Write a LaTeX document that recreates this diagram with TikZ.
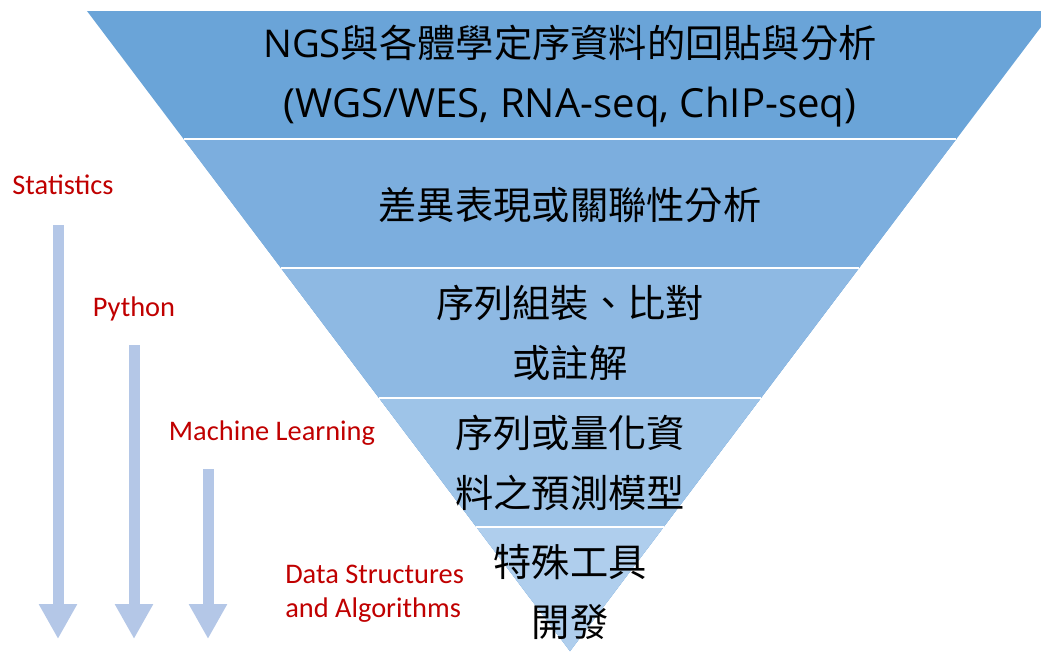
\documentclass[tikz,border=0pt]{standalone}
\usepackage{fontspec}
\setmainfont{Noto Sans CJK TC}
\newfontfamily\latinText{Open Sans}
\newfontfamily\latinLabel{Carlito}
\usetikzlibrary{arrows.meta}

\definecolor{bandA}{HTML}{6AA4D8}
\definecolor{bandB}{HTML}{7CAEDE}
\definecolor{bandC}{HTML}{8EB9E3}
\definecolor{bandD}{HTML}{9EC4E8}
\definecolor{bandE}{HTML}{AFCEED}
\definecolor{arrowBlue}{HTML}{B4C7E7}
\definecolor{labelRed}{HTML}{C00000}

\begin{document}
\begin{tikzpicture}[x=0.75pt,y=-0.75pt,
        bandText/.style = {align=center,text=black,font=\fontsize{28.7}{45}\selectfont},
        redLabel/.style = {text=labelRed,font=\latinLabel\fontsize{21.3}{25.5}\selectfont,align=left,inner sep=0pt},
        flowArrow/.style = {draw=arrowBlue,line width=8.25pt,-{Triangle[length=26.25pt,width=27pt]}},
        bandLine/.style = {draw=white,line width=1.5pt}
        ]
        \useasboundingbox (0,0) rectangle (1041,651);
        \clip (0,0) rectangle (1041,651);
        % funnel: each band is a triangle down to the tip, drawn over the one above
        \foreach \y/\col in {11/bandA,139/bandB,268/bandC,398/bandD,527/bandE}
            \fill[\col] ({570-0.7547*(651-\y)},\y) -- ({570+0.7547*(651-\y)},\y) -- (570,651) -- cycle;
        \foreach \y in {139,268,398,527}
            \draw[bandLine] ({570-0.7547*(651-\y)},\y) -- ({570+0.7547*(651-\y)},\y);

        % texts inside the funnel
        \node[bandText] (ngsText) at (570,76) {{\latinText NGS}與各體學定序資料的回貼與分析\\{\latinText\fontsize{30.1}{45}\selectfont (WGS/WES, RNA-seq, ChIP-seq)}};
        \node[bandText] (diffText) at (570,205) {差異表現或關聯性分析};
        \node[bandText] (asmText) at (570,333) {序列組裝、比對\\或註解};
        \node[bandText] (modelText) at (570,463) {序列或量化資\\料之預測模型};
        \node[bandText] (toolText) at (570,592) {特殊工具\\開發};

        % skills on the left
        \node[redLabel] (statLabel) at (63,185) {Statistics};
        \node[redLabel] (pyLabel) at (134,309) {Python};
        \node[redLabel] (mlLabel) at (272,433) {Machine Learning};
        \node[redLabel,anchor=west] (dsaLabel) at (285,594) {Data Structures\\and Algorithms};

        \coordinate (statTop) at (58,225);
        \coordinate (statTip) at (58,639);
        \coordinate (pyTop) at (134,345);
        \coordinate (pyTip) at (134,639);
        \coordinate (mlTop) at (208,469);
        \coordinate (mlTip) at (208,639);
        \draw[flowArrow] (statTop) -- (statTip);
        \draw[flowArrow] (pyTop) -- (pyTip);
        \draw[flowArrow] (mlTop) -- (mlTip);
    \end{tikzpicture}
\end{document}
